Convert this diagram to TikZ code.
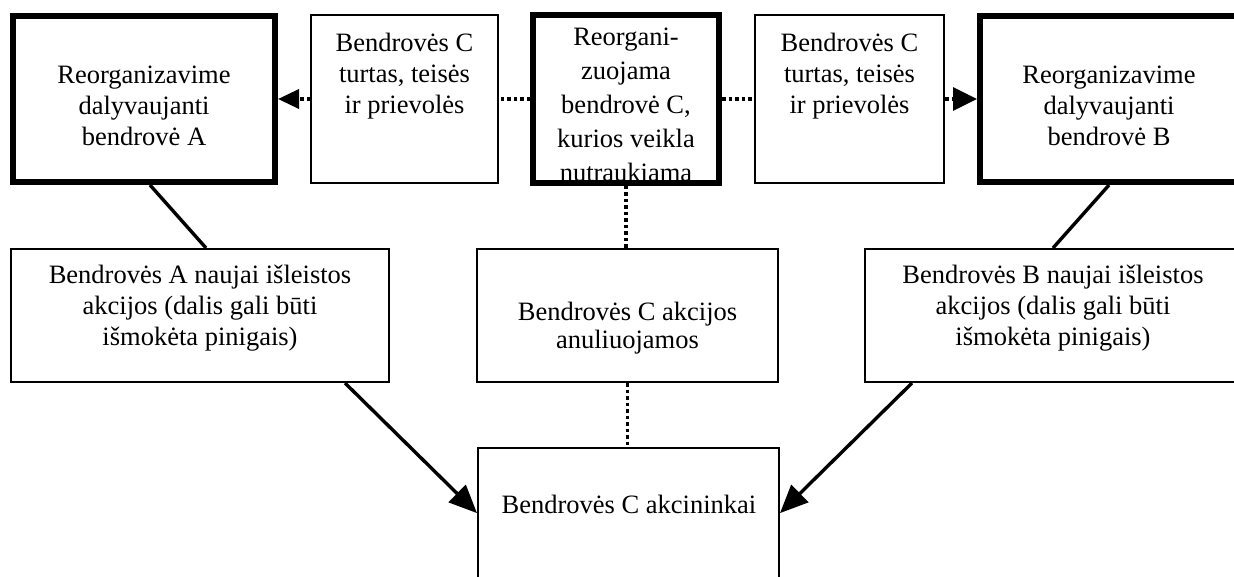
\documentclass[tikz,border=0pt]{standalone}
\usepackage{fontspec}
\setmainfont{Liberation Serif}
\usetikzlibrary{arrows.meta,calc}
\tikzset{
  boxthin/.style={draw, line width=1.8pt, inner sep=0pt},
  boxthick/.style={draw, line width=6pt, inner sep=0pt},
  txt/.style={font=\fontsize{26.5}{31}\selectfont, align=center, inner sep=0pt, anchor=north},
  dotline/.style={line width=3.5pt, dash pattern=on 3.5pt off 3pt},
  solidline/.style={line width=3.4pt},
  harrowA/.style={-{Triangle[length=21pt,width=19pt]}},
  harrowB/.style={-{Triangle[length=24pt,width=23pt]}},
  darrow/.style={-{Triangle[length=28pt,width=24pt]}}
}
\begin{document}
\begin{tikzpicture}[x=1pt,y=-1pt]
\useasboundingbox (0,0) rectangle (1234,577);
\clip (0,0) rectangle (1234,577);
% top row
\node[boxthick, minimum width=262pt, minimum height=166pt] (boxA) at (144,99) {};
\node[boxthin, minimum width=187.2pt, minimum height=168.2pt] (cl) at (404.5,99) {};
\node[txt, font=\fontsize{26.5}{34}\selectfont] (cct) at (626,21.2) {\strut Reorgani-\\zuojama\\bendrovė C,\\kurios veikla\\nutraukiama};
\node[boxthick, minimum width=186pt, minimum height=168pt] (cc) at (626,99) {};
\node[boxthin, minimum width=189.2pt, minimum height=168.2pt] (cr) at (849.5,99) {};
\node[boxthick, minimum width=258pt, minimum height=166pt] (boxB) at (1109,99) {};
% middle row
\node[boxthin, minimum width=378.2pt, minimum height=133.2pt] (ash) at (200,315.5) {};
\node[boxthin, minimum width=301.2pt, minimum height=133.2pt] (mid) at (627.5,315.5) {};
\node[boxthin, minimum width=376.2pt, minimum height=133.2pt] (bsh) at (1053,315.5) {};
% bottom
\node[boxthin, minimum width=301.2pt, minimum height=200pt] (bot) at (628.5,548) {};
% texts
\node[txt] (boxAt) at (144,61.3) {\strut Reorganizavime\\dalyvaujanti\\bendrovė A};
\node[txt] (clt) at (404.5,29.3) {\strut Bendrovės C\\turtas, teisės\\ir prievolės};
\node[txt] (crt) at (849.5,29.3) {\strut Bendrovės C\\turtas, teisės\\ir prievolės};
\node[txt] (boxBt) at (1109,61.3) {\strut Reorganizavime\\dalyvaujanti\\bendrovė B};
\node[txt] (asht) at (200,261.3) {\strut Bendrovės A naujai išleistos\\akcijos (dalis gali būti\\išmokėta pinigais)};
\node[txt] (bsht) at (1053,261.3) {\strut Bendrovės B naujai išleistos\\akcijos (dalis gali būti\\išmokėta pinigais)};
\node[txt, font=\fontsize{26.5}{28}\selectfont] (midt) at (627.5,300.4) {\strut Bendrovės C akcijos\\anuliuojamos};
\node[txt] (bott) at (629,491.3) {\strut Bendrovės C akcininkai};
% connectors
\draw[dotline] (cc.west) -- (cl.east);
\draw[dotline, harrowA] (cl.west) -- (boxA.east);
\draw[dotline] (cc.east) -- (cr.west);
\draw[dotline, harrowB] (cr.east) -- (boxB.west);
\draw[dotline] (cc.south) -- (cc.south |- mid.north);
\draw[dotline] (mid.south) -- (mid.south |- bot.north);
\draw[solidline] ($(boxA.south)+(6,0)$) -- ($(ash.north)+(6,0)$);
\draw[solidline] (boxB.south) -- (bsh.north);
\draw[solidline, darrow] ($(ash.south east)+(-45,0)$) -- ($(bot.north west)+(0,66)$);
\draw[solidline, darrow] ($(bsh.south west)+(48,0)$) -- ($(bot.north east)+(0,66)$);
\end{tikzpicture}
\end{document}
